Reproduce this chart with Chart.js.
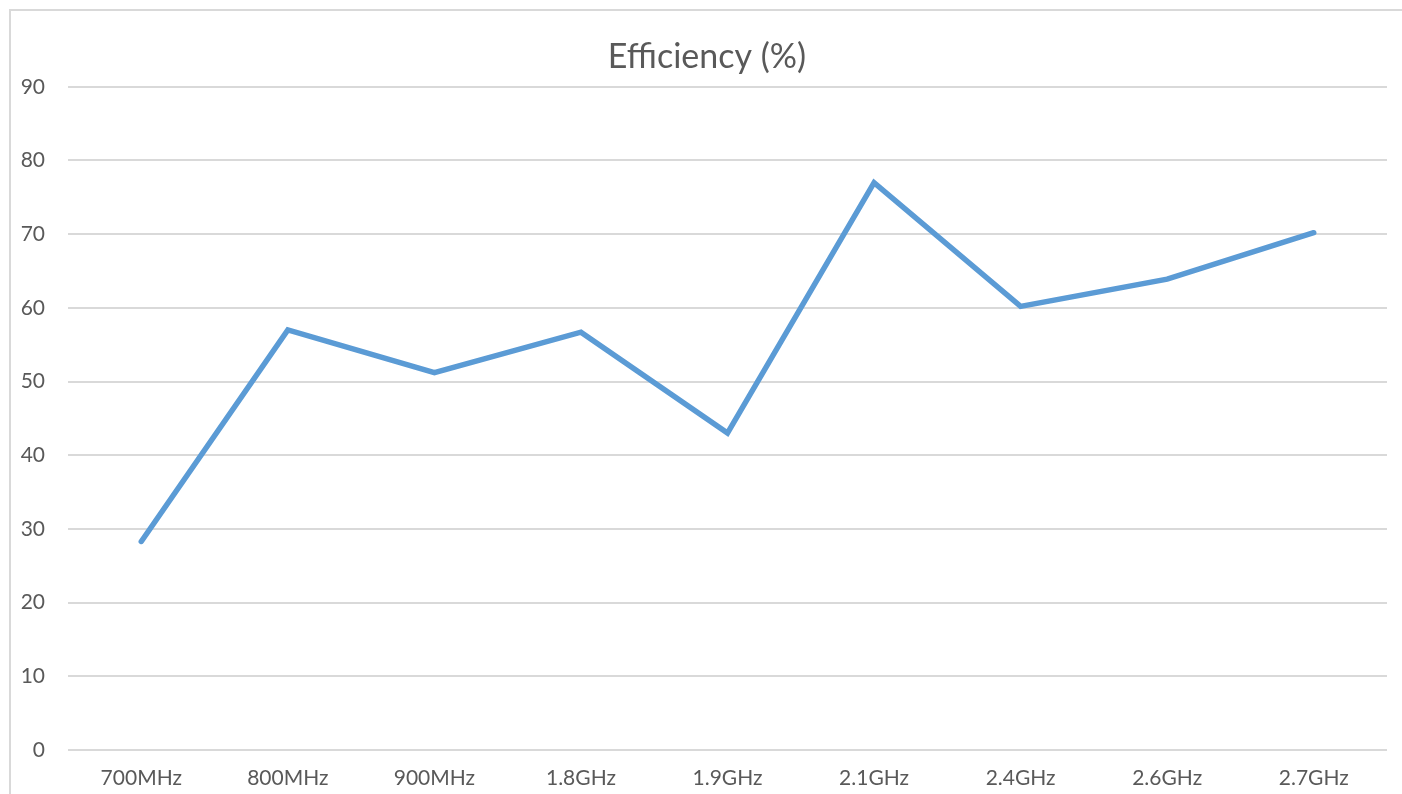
<!DOCTYPE html>
<html>
<head>
<meta charset="utf-8">
<script src="https://cdn.jsdelivr.net/npm/chart.js@4"></script>
<style>
  html, body { margin: 0; padding: 0; background: #fff; overflow: hidden; }
  #frame { position: absolute; left: 9px; top: 9px; width: 1420px; height: 820px; border: 2px solid #d9d9d9; }
  #wrap { position: absolute; left: 0; top: 0; width: 1414px; height: 794px; }
</style>
</head>
<body>
<div id="frame"></div>
<div id="wrap"><canvas id="effChart"></canvas></div>
<script>
// Efficiency by band
const bands = ["700MHz", "800MHz", "900MHz", "1.8GHz", "1.9GHz", "2.1GHz", "2.4GHz", "2.6GHz", "2.7GHz"];
const efficiency = [28.3, 57, 51.2, 56.7, 43, 77, 60.2, 63.9, 70.2];
const yTicks = [0, 10, 20, 30, 40, 50, 60, 70, 80, 90];

const txt = "#595959";
const fontFam = "Lato, 'Open Sans', sans-serif";

new Chart(document.getElementById("effChart"), {
  type: "line",
  data: {
    labels: bands,
    datasets: [{
      label: "Efficiency (%)",
      data: efficiency,
      borderColor: "#5b9bd5",
      borderWidth: 5.5,
      pointRadius: 0,
      tension: 0,
      fill: false,
      borderCapStyle: "round",
      borderJoinStyle: "miter"
    }]
  },
  options: {
    responsive: true,
    maintainAspectRatio: false,
    animation: false,
    layout: { padding: 0 },
    plugins: {
      legend: { display: false },
      tooltip: { enabled: false },
      title: {
        display: true,
        text: "Efficiency (%)",
        color: txt,
        font: { family: fontFam, size: 34, weight: "normal" },
        padding: { top: 37, bottom: 9 }
      }
    },
    scales: {
      x: {
        offset: true,
        grid: { display: false, drawTicks: false },
        border: { display: false },
        ticks: { color: txt, font: { family: fontFam, size: 21 }, padding: 16, maxRotation: 0 },
        afterFit: s => { s.height = 44; }
      },
      y: {
        min: 0,
        max: 90,
        afterBuildTicks: s => { s.ticks = yTicks.map(v => ({ value: v })); },
        grid: { color: "#d9d9d9", lineWidth: 2, drawTicks: false },
        border: { display: false },
        ticks: { color: txt, font: { family: fontFam, size: 21 }, padding: 23 },
        afterFit: s => { s.width = 68; }
      },
      // empty spacer on the right so the plot ends where the reference does
      yPad: {
        position: "right",
        min: 0,
        max: 90,
        grid: { display: false, drawTicks: false },
        border: { display: false },
        ticks: { display: false },
        afterFit: s => { s.width = 27; }
      }
    }
  }
});
</script>
</body>
</html>
